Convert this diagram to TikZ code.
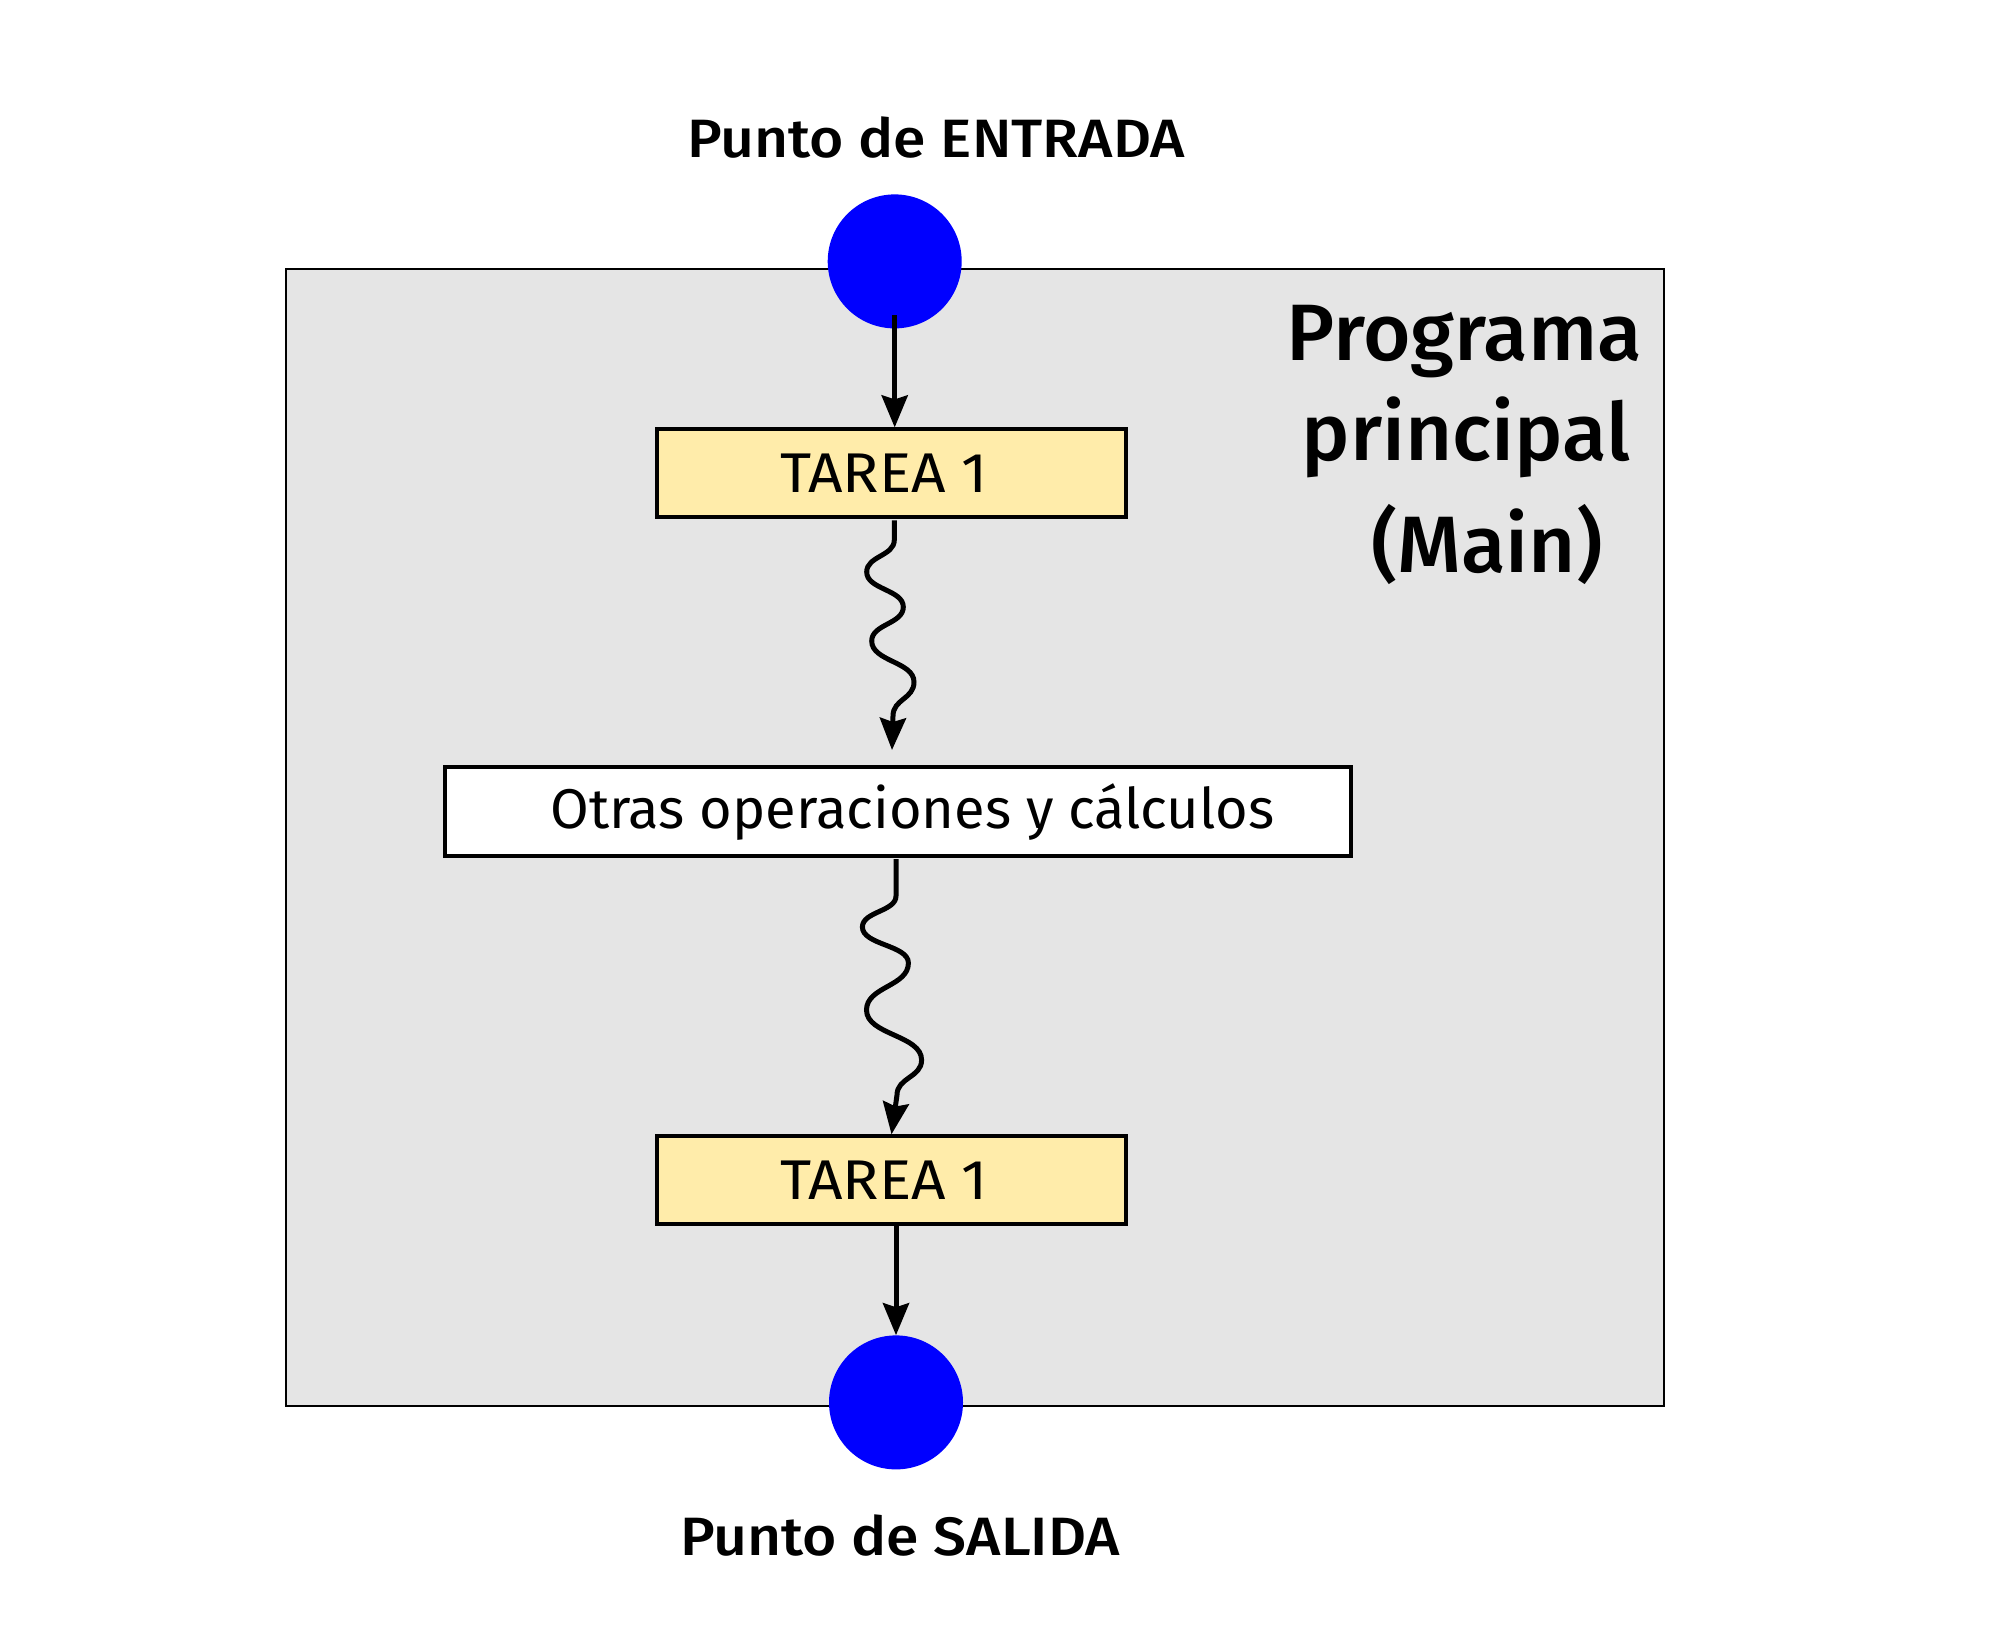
\documentclass[tikz,border=0pt]{standalone}
\usepackage{fontspec}
\setmainfont{Fira Sans}[BoldFont={Fira Sans Medium}]
\newfontfamily\medfont{Fira Sans Medium}[FakeStretch=1.09]
\newfontfamily\bigfont{Fira Sans Medium}[FakeStretch=1.02]
\newfontfamily\taskfont{Fira Sans}[FakeStretch=1.075]
\usetikzlibrary{arrows.meta,calc}
\definecolor{boxgray}{HTML}{E5E5E5}
\definecolor{taskyellow}{HTML}{FFECAA}
\definecolor{dotblue}{HTML}{0000FF}
\begin{document}
\begin{tikzpicture}[x=1pt,y=-1pt,
  taskbox/.style={draw, line width=4pt, fill=taskyellow, minimum width=469pt, minimum height=88pt, inner sep=0pt, font=\taskfont\fontsize{56}{60}\selectfont},
  opbox/.style={draw, line width=4pt, fill=white, minimum width=906pt, minimum height=89pt, inner sep=0pt, font=\fontsize{56}{60}\selectfont},
  dot/.style={circle, fill=dotblue, minimum size=134pt, inner sep=0pt},
  lbl/.style={anchor=base, font=\medfont\fontsize{54}{60}\selectfont},
  biglbl/.style={anchor=base, font=\bigfont\fontsize{80}{90}\selectfont},
  arr/.style={line width=5pt, -{Stealth[length=32pt,width=26pt,inset=4pt]}}]
\useasboundingbox (0,0) rectangle (1990,1646);
\node[draw, line width=1.8pt, fill=boxgray, minimum width=1378pt, minimum height=1137pt, inner sep=0pt] (frame) at (974.7,837.5) {};
\node[dot] (c1) at (894.7,261.4) {};
\node[dot] (c2) at (896,1402.4) {};
\node[lbl] (entrada) at (936,157) {Punto de ENTRADA};
\node[lbl] (salida) at (900,1555) {Punto de SALIDA};
\node[biglbl] (prog1) at (1464.6,360) {Programa};
\node[biglbl] (prog2) at (1466,460) {principal};
\node[biglbl] (prog3) at (1487,572) {(Main)};
\node[taskbox] (t1) at (891.5,473.4) {TAREA 1\hspace{15pt}\null};
\node[opbox] (op) at (897.9,811.6) {\hspace{29pt}Otras operaciones y cálculos};
\node[taskbox] (t2) at (891.5,1180.3) {TAREA 1\hspace{15pt}\null};
\coordinate (tip1) at (892,750);
\draw[arr] ($(c1.center)+(0,54)$) -- (c1.center |- t1.north);
\draw[arr] ($(t1.south)+(2.8,1)$) -- (894.3,540)
  .. controls (894.3,556) and (866.7,556) .. (866.7,572)
  .. controls (866.7,589.5) and (903.3,589.5) .. (903.3,607)
  .. controls (903.3,624) and (871.7,624) .. (871.7,641)
  .. controls (871.7,661.5) and (914,661.5) .. (914,682)
  .. controls (914,699) and (893,699) .. (893,716)
  -- (tip1);
\draw[arr] ($(op.south)+(-1.9,1)$) -- (896,896)
  .. controls (896,911.5) and (862.4,911.5) .. (862.4,927)
  .. controls (862.4,945) and (908.4,945) .. (908.4,963)
  .. controls (908.4,986.5) and (866.5,986.5) .. (866.5,1010)
  .. controls (866.5,1035) and (921.6,1035) .. (921.6,1060)
  .. controls (921.6,1077.5) and (897,1077.5) .. (897,1095)
  -- (t2.north);
\draw[arr] (c2.north |- t2.south) -- (c2.north);
\end{tikzpicture}
\end{document}
